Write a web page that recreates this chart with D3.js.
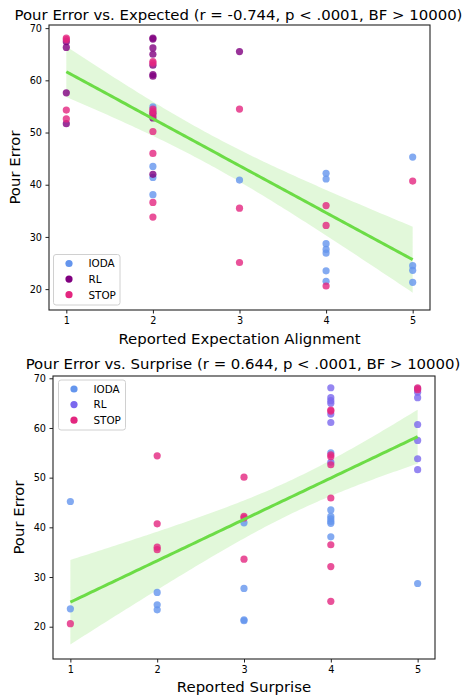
<!DOCTYPE html>
<html><head><meta charset="utf-8">
<script src="https://cdn.jsdelivr.net/npm/d3@7"></script>
<style>body{margin:0;background:#fff}svg{display:block;font-family:"DejaVu Sans",sans-serif}</style>
</head><body><svg id="c" width="463" height="696"></svg>
<script>
// ---- data ----
const groups = ["IODA", "RL", "STOP"];
const xTicks = [1, 2, 3, 4, 5];
const yTicks = [20, 30, 40, 50, 60, 70];

// Plot 1: Reported Expectation Alignment vs Pour Error
const expectedIODA = [[2,54.9],[2,43.5],[2,41.4],[2,38.1],[3,40.9],[4,42.2],[4,41.1],[4,28.7],[4,27.6],[4,26.9],[4,23.5],[4,21.5],[5,45.3],[5,24.5],[5,23.6],[5,21.3]];
const expectedRL = [[1,67.4],[1,66.3],[1,57.6],[1,51.7],[2,68.1],[2,67.9],[2,66.2],[2,65.0],[2,62.9],[2,61.1],[2,60.8],[2,53.7],[2,52.8],[2,42.0],[3,65.5]];
const expectedSTOP = [[1,68.1],[1,67.8],[1,54.3],[1,52.6],[2,63.6],[2,63.3],[2,54.5],[2,54.1],[2,53.3],[2,50.2],[2,46.0],[2,36.6],[2,33.8],[3,54.5],[3,35.5],[3,25.1],[4,36.0],[4,32.2],[4,20.6],[5,40.7]];

// Plot 2: Reported Surprise vs Pour Error
const surpriseIODA = [[1,45.2],[1,23.6],[2,26.9],[2,24.4],[2,23.4],[3,40.9],[3,27.7],[3,21.4],[3,21.2],[4,55.0],[4,43.5],[4,42.2],[4,41.7],[4,41.2],[4,40.8],[4,38.1],[5,28.7]];
const surpriseRL = [[4,68.1],[4,66.1],[4,65.5],[4,65.0],[4,62.8],[4,61.1],[4,53.1],[5,67.9],[5,67.2],[5,66.1],[5,60.7],[5,57.5],[5,53.8],[5,51.6]];
const surpriseSTOP = [[1,20.6],[2,54.4],[2,40.7],[2,36.0],[2,35.5],[3,50.1],[3,42.2],[3,41.9],[3,33.6],[4,63.6],[4,63.4],[4,54.6],[4,54.2],[4,52.6],[4,45.9],[4,36.5],[4,32.1],[4,25.1],[5,68.1],[5,67.7]];

const titles = ["Pour Error vs. Expected (r = -0.744, p < .0001, BF > 10000)",
                "Pour Error vs. Surprise (r = 0.644, p < .0001, BF > 10000)"];
const xLabels = ["Reported Expectation Alignment", "Reported Surprise"];
const yLabel = "Pour Error";

// ---- styles ----
const colorsTop = {IODA:"#6495ED", RL:"#800080", STOP:"#E3267F"};
const colorsBottom = {IODA:"#6495ED", RL:"#7B68EE", STOP:"#E3267F"};
const fitColor = "#6CDC46";

const svg = d3.select("#c");
svg.append("rect").attr("width",463).attr("height",696).attr("fill","#fff");

function regress(pts){
  const n = pts.length;
  const mx = d3.mean(pts,d=>d[0]), my = d3.mean(pts,d=>d[1]);
  let sxx=0, sxy=0;
  pts.forEach(d=>{sxx+=(d[0]-mx)**2; sxy+=(d[0]-mx)*(d[1]-my);});
  const b = sxy/sxx, a = my-b*mx;
  let sse=0; pts.forEach(d=>{sse+=(d[1]-(a+b*d[0]))**2;});
  const s = Math.sqrt(sse/(n-2));
  const t = 2.01;
  const xs = d3.range(0,101).map(i=>1+4*i/100);
  return xs.map(x=>{
    const yh = a+b*x;
    const se = s*Math.sqrt(1/n + (x-mx)**2/sxx);
    return {x, y:yh, lo:yh-t*se, hi:yh+t*se};
  });
}

function panel(cfg){
  const {left,right,top,bottom,yDomain,data,colors,title,xLabel,titleY,xLabelY,yLabelX,legend} = cfg;
  const x = d3.scaleLinear().domain([0.8,5.2]).range([left,right]);
  const y = d3.scaleLinear().domain(yDomain).range([bottom,top]);
  const g = svg.append("g");

  const all = [];
  groups.forEach(k=>data[k].forEach(p=>all.push(p)));
  const fit = regress(all);

  g.append("path").datum(fit)
    .attr("d", d3.area().x(d=>x(d.x)).y0(d=>y(d.lo)).y1(d=>y(d.hi)))
    .attr("fill", fitColor).attr("fill-opacity",0.2);

  groups.forEach(k=>{
    g.selectAll(null).data(data[k]).enter().append("circle")
      .attr("cx",d=>x(d[0])).attr("cy",d=>y(d[1])).attr("r",3.6)
      .attr("fill",colors[k]).attr("fill-opacity",0.8);
  });

  g.append("path").datum(fit)
    .attr("d", d3.line().x(d=>x(d.x)).y(d=>y(d.y)))
    .attr("fill","none").attr("stroke",fitColor).attr("stroke-width",3);

  const ax = g.append("g").attr("transform",`translate(0,${bottom})`)
    .call(d3.axisBottom(x).tickValues(xTicks).tickFormat(d3.format("d")).tickSize(3.5).tickPadding(3.5));
  const ay = g.append("g").attr("transform",`translate(${left},0)`)
    .call(d3.axisLeft(y).tickValues(yTicks).tickFormat(d3.format("d")).tickSize(3.5).tickPadding(3.5));
  [ax,ay].forEach(a=>{
    a.select(".domain").remove();
    a.selectAll("text").attr("font-size","9.7px").attr("fill","#000").attr("font-family","DejaVu Sans");
    a.selectAll("line").attr("stroke","#222");
  });
  g.append("rect").attr("x",left).attr("y",top).attr("width",right-left).attr("height",bottom-top)
    .attr("fill","none").attr("stroke","#222").attr("stroke-width",1.1);

  g.append("text").attr("x",(left+right)/2 - 1).attr("y",titleY).attr("text-anchor","middle")
    .attr("font-size","14.9px").text(title);
  g.append("text").attr("x",(left+right)/2).attr("y",xLabelY).attr("text-anchor","middle")
    .attr("font-size","14.9px").text(xLabel);
  g.append("text").attr("transform",`translate(${yLabelX},${(top+bottom)/2}) rotate(-90)`)
    .attr("text-anchor","middle").attr("font-size","14.9px").text(yLabel);

  const lg = g.append("g");
  lg.append("rect").attr("x",legend.x).attr("y",legend.y).attr("width",legend.w).attr("height",legend.h)
    .attr("rx",2.5).attr("fill","#fff").attr("fill-opacity",0.8).attr("stroke","#d0d0d0").attr("stroke-width",1);
  groups.forEach((k,i)=>{
    const cy = legend.y + 9 + i*15.6;
    lg.append("circle").attr("cx",legend.x+15.5).attr("cy",cy).attr("r",3.6).attr("fill",colors[k]);
    lg.append("text").attr("x",legend.x+35).attr("y",cy+3.8).attr("font-size","10.4px").text(k);
  });
}

panel({left:49,right:430,top:25,bottom:310,yDomain:[16.0,70.6],
  data:{IODA:expectedIODA,RL:expectedRL,STOP:expectedSTOP},colors:colorsTop,
  title:titles[0],xLabel:xLabels[0],titleY:19.5,xLabelY:344,yLabelX:20,
  legend:{x:53.5,y:254.5,w:66.5,h:50.5}});

panel({left:53,right:435,top:376,bottom:659,yDomain:[13.5,70.46],
  data:{IODA:surpriseIODA,RL:surpriseRL,STOP:surpriseSTOP},colors:colorsBottom,
  title:titles[1],xLabel:xLabels[1],titleY:368.5,xLabelY:692,yLabelX:23.5,
  legend:{x:58.5,y:380,w:67,h:50}});
</script></body></html>
